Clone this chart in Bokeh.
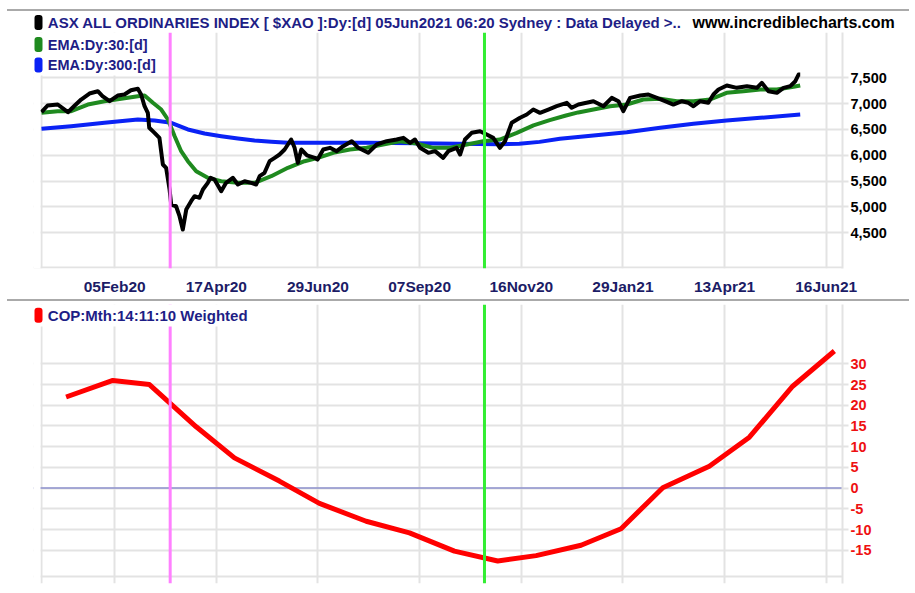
from bokeh.plotting import figure
from bokeh.models import (Range1d, LinearAxis, FixedTicker, NumeralTickFormatter,
                          Span, Label, BoxAnnotation, Div, Spacer)
from bokeh.layouts import column
from bokeh.embed import file_html
from bokeh.resources import INLINE

# ---------------- data (x = trading-day index from first bar) ----------------
tick_idx = [36, 86, 136, 186, 236, 286, 336, 386]
tick_labels = ["05Feb20", "17Apr20", "29Jun20", "07Sep20",
               "16Nov20", "29Jan21", "13Apr21", "16Jun21"]
x_first = 0          # first bar (left edge of the plot area)

price_ticks = [4500, 5000, 5500, 6000, 6500, 7000, 7500]
price_floor = 3828   # lower edge of the price plot area
cop_ticks = [-15, -10, -5, 0, 5, 10, 15, 20, 25, 30]
cop_floor = -21.34   # lower edge of the COP plot area

close_idx = [0, 3, 8, 13, 16, 19.5, 23.6, 27.7, 30, 33.5, 37.5, 40.8, 44, 47.4, 49,
             50.7, 52.3, 53, 55.6, 58, 59.7, 61.3, 63, 63.8, 66.2, 67.9, 69.5, 71.2,
             73.6, 75.3, 77.7, 79.4, 81.8, 83.2, 85.1, 88.4, 90.8, 94.1, 96.6, 99.9,
             103.2, 105.6, 107.3, 109.7, 112.2, 114.7, 117.1, 119.6, 121.2, 122.8,
             124.5, 126.1, 127.8, 130.6, 134.4, 135.8, 138.6, 141.9, 145.2, 148.4,
             152.6, 155.8, 160.7, 164.9, 169.8, 174.7, 178, 181.3, 183.7, 186.2,
             190.3, 193.6, 197.6, 200.1, 204.2, 205.9, 208.3, 211.6, 215.7, 219,
             222.2, 225.5, 228, 231.3, 235.4, 238.7, 241.9, 245.2, 249.3, 253.4,
             258.4, 260.8, 264.1, 271.5, 276.4, 280.5, 283.8, 286.2, 289.5, 294.5,
             298.5, 302.7, 306.7, 310.8, 315, 318.2, 320.7, 324, 328, 330.5, 333,
             337.1, 342, 347, 351.9, 354.3, 357.6, 361.7, 365, 368.3, 370.8, 372.4,
             373.2]
close_val = [6834, 6964, 6983, 6834, 6950, 7080, 7196, 7240, 7144, 7047, 7157, 7177,
             7260, 7287, 7177, 6950, 6822, 6532, 6435, 6338, 5822, 5758, 5338, 5047,
             5014, 4821, 4563, 4950, 5111, 5208, 5177, 5338, 5467, 5564, 5531, 5305,
             5467, 5564, 5434, 5498, 5467, 5434, 5595, 5661, 5886, 5951, 6015, 6112,
             6209, 6306, 6145, 5854, 6112, 6000, 5951, 5918, 6112, 6145, 6080, 6176,
             6273, 6145, 6048, 6209, 6273, 6306, 6338, 6241, 6306, 6145, 6048, 6080,
             5951, 6080, 6145, 6015, 6306, 6435, 6467, 6402, 6338, 6145, 6273, 6629,
             6726, 6790, 6886, 6822, 6886, 6950, 7016, 6919, 6983, 7047, 6950, 7112,
             7047, 6854, 7112, 7157, 7177, 7112, 7047, 6983, 7047, 7016, 6950, 7047,
             7016, 7177, 7273, 7351, 7306, 7338, 7306, 7403, 7241, 7209, 7306, 7338,
             7434, 7564, 7564]

ema30_idx = [0, 8, 14.6, 22.8, 31, 39.2, 47.4, 50.7, 54.8, 58.9, 62.2, 65.5, 68.7,
             72, 76.1, 81.8, 88.4, 96.6, 104.8, 113, 121.2, 129.4, 136, 143.5, 151.7,
             160, 168, 176.3, 184.5, 192.7, 201, 209.2, 217.3, 225.5, 233.8, 242,
             250, 258, 264, 271.5, 279.7, 287.9, 296, 304.3, 312.5, 320.7, 328.9,
             337, 345.3, 353.5, 361.7, 369.9, 373.2]
ema30_val = [6822, 6854, 6854, 6983, 7047, 7093, 7144, 7157, 7016, 6886, 6693, 6370,
             6080, 5886, 5692, 5564, 5498, 5467, 5467, 5595, 5758, 5886, 5951, 6048,
             6112, 6145, 6209, 6273, 6228, 6145, 6145, 6209, 6273, 6306, 6435, 6580,
             6680, 6770, 6830, 6886, 6950, 6983, 7080, 7093, 7047, 7047, 7080, 7209,
             7241, 7273, 7273, 7326, 7351]

ema300_idx = [0, 14.6, 31, 47.4, 55.6, 63.8, 72, 80.2, 88.4, 96.6, 104.8, 113, 121.2,
              136, 160, 185, 205, 225, 235, 245, 255, 271.5, 287.9, 304.3, 320.7,
              337, 353.5, 373.2]
ema300_val = [6513, 6563, 6629, 6693, 6673, 6629, 6500, 6422, 6370, 6325, 6286, 6261,
              6241, 6241, 6241, 6235, 6225, 6215, 6225, 6260, 6319, 6383, 6447, 6532,
              6609, 6673, 6726, 6790]

cop_idx = [12.1, 35.1, 53.1, 76.1, 94.9, 117.0, 136.7, 159.7, 181.0, 203.1, 224.4,
           243.3, 265.4, 285.1, 305.6, 328.5, 348.2, 369.5, 390.0]
cop_val = [22.0, 26.0, 25.0, 14.8, 7.3, 1.7, -3.7, -8.0, -10.8, -15.2, -17.6, -16.3,
           -13.8, -9.8, 0.1, 5.3, 12.3, 24.6, 33.1]

event_idx = [63.3, 217.9]
zero_level = 0

# ---------------- styles ----------------
FONT = "Liberation Sans"
NAVY = "#1e1e86"
AXNAVY = "#1c1c66"
GRID = "#e3e3e3"
EVENT_COLORS = ["#ff80ff", "#33ee33"]
BLACK, GREEN, BLUE, RED = "black", "#1f8a1f", "#0a22f5", "#ff0000"
W = 906

x_range = Range1d(-3.93, 394.0)


def base_fig(height, y_range, top_border, bottom_border, yticks):
    p = figure(width=W, height=height, x_range=x_range, y_range=y_range,
               output_backend="svg", toolbar_location=None,
               x_axis_location=None, y_axis_location=None,
               min_border_left=33, min_border_right=64,
               min_border_top=top_border, min_border_bottom=bottom_border)
    p.outline_line_color = None
    p.background_fill_color = "white"
    p.border_fill_color = "white"
    p.xgrid.ticker = FixedTicker(ticks=[x_first] + tick_idx)
    p.ygrid.ticker = FixedTicker(ticks=yticks)
    for g in (p.xgrid, p.ygrid):
        g.grid_line_color = GRID
        g.grid_line_width = 2
    return p


def right_axis(p, yticks, color, fmt):
    ax = LinearAxis(ticker=FixedTicker(ticks=yticks), formatter=NumeralTickFormatter(format=fmt),
                    axis_line_color=GRID, axis_line_width=2,
                    major_tick_out=6, major_tick_in=0, major_tick_line_color=GRID,
                    major_tick_line_width=2, minor_tick_line_color=None,
                    major_label_standoff=2, major_label_text_font=FONT,
                    major_label_text_font_style="bold", major_label_text_font_size="14.5px",
                    major_label_text_color=color)
    p.add_layout(ax, "right")


def white_box(p, left, right, bottom, top):
    p.add_layout(BoxAnnotation(left=left, right=right, bottom=bottom, top=top,
                               left_units="screen", right_units="screen",
                               bottom_units="screen", top_units="screen",
                               fill_color="white", fill_alpha=1, line_color=None))


def swatch(p, x, y, color):
    p.add_layout(BoxAnnotation(left=x, right=x + 8, bottom=y - 7.5, top=y + 7.5,
                               left_units="screen", right_units="screen",
                               bottom_units="screen", top_units="screen",
                               fill_color=color, fill_alpha=1, line_color=None,
                               border_radius=3))


def text(p, x, y, s, color=NAVY, size="14.5px"):
    p.add_layout(Label(x=x, y=y, x_units="screen", y_units="screen", text=s,
                       text_font=FONT, text_font_style="bold", text_font_size=size,
                       text_color=color, text_baseline="middle"))


# ---------------- header strip (title row) ----------------
head = figure(width=W, height=21, x_range=Range1d(0, 1), y_range=Range1d(0, 1),
              output_backend="svg", toolbar_location=None,
              x_axis_location=None, y_axis_location=None,
              min_border_left=0, min_border_right=0, min_border_top=0, min_border_bottom=0)
head.frame_align = False
head.outline_line_color = None
head.grid.visible = False
swatch(head, 34, 10, BLACK)
text(head, 47.3, 10, "ASX ALL ORDINARIES INDEX [ $XAO ]:Dy:[d]  05Jun2021 06:20 Sydney : Data Delayed >..",
     size="15px")
text(head, 692, 10, "www.incrediblecharts.com", color="black", size="16px")

# ---------------- price panel ----------------
top = base_fig(267, Range1d(3809, 8377), 0, 31, price_ticks + [price_floor])
right_axis(top, price_ticks, "black", "0,0")
bx = LinearAxis(ticker=FixedTicker(ticks=tick_idx),
                major_label_overrides={t: l for t, l in zip(tick_idx, tick_labels)},
                axis_line_color=None, major_tick_out=0, major_tick_in=0,
                major_tick_line_color=None, minor_tick_line_color=None,
                major_label_standoff=9, major_label_text_font=FONT,
                major_label_text_font_style="bold", major_label_text_font_size="15.5px",
                major_label_text_color=AXNAVY)
top.add_layout(bx, "below")

top.line(ema300_idx, ema300_val, line_color=BLUE, line_width=4, line_join="round")
top.line(ema30_idx, ema30_val, line_color=GREEN, line_width=4, line_join="round")
top.line(close_idx, close_val, line_color=BLACK, line_width=4, line_join="round")

for xi, c in zip(event_idx, EVENT_COLORS):
    top.add_layout(Span(location=xi, dimension="height", line_color=c, line_width=3))

white_box(top, 0, 7, 0, 236)
white_box(top, 0, 128, 193, 236)
swatch(top, 1, 224, GREEN)
text(top, 14.3, 224, "EMA:Dy:30:[d]")
swatch(top, 1, 203.5, BLUE)
text(top, 14.3, 203.5, "EMA:Dy:300:[d]")

# ---------------- COP panel ----------------
bot = base_fig(283, Range1d(-23.03, 44.33), 3, 1, cop_ticks + [cop_floor])
right_axis(bot, cop_ticks, "#ee1111", "0")

bot.add_layout(Span(location=zero_level, dimension="width", line_color="#8c90cc",
                    line_width=1.5, level="underlay"))
bot.line(cop_idx, cop_val, line_color=RED, line_width=5, line_join="round")
for xi, c in zip(event_idx, EVENT_COLORS):
    bot.add_layout(Span(location=xi, dimension="height", line_color=c, line_width=3))

white_box(bot, 0, 7, 0, 279)
white_box(bot, 0, 221, 257, 279)
swatch(bot, 1, 268.3, RED)
text(bot, 14.3, 268.3, "COP:Mth:14:11:10 Weighted", size="15px")

# ---------------- layout ----------------
pad = Spacer(width=W, height=9, margin=0)
sep1 = Div(width=902, height=2, margin=(0, 0, 0, 7), styles={"background-color": "#aaaaaa"})
sep2 = Div(width=902, height=2, margin=(0, 0, 0, 7), styles={"background-color": "#aaaaaa"})
layout = column(pad, sep1, head, top, sep2, bot, spacing=0)

open("out.html", "w").write(file_html(layout, INLINE))
